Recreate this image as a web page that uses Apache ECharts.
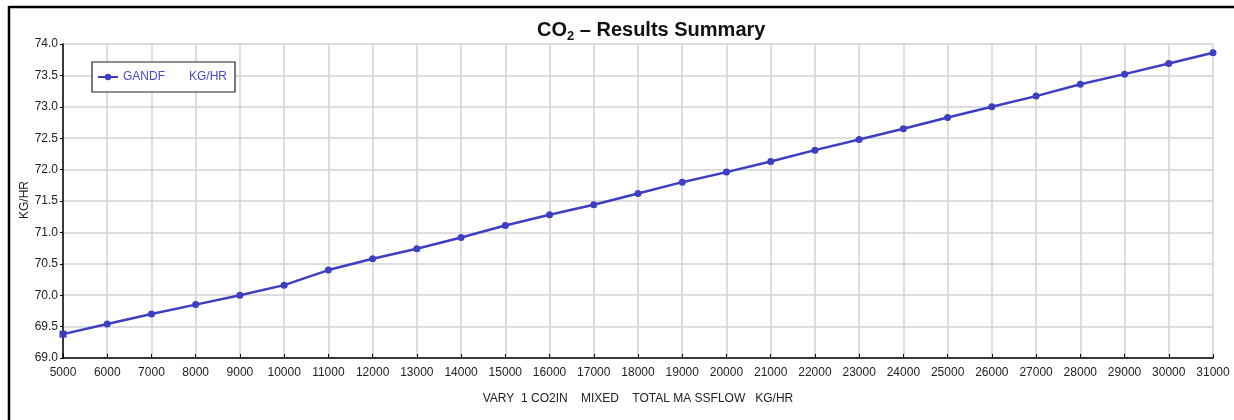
<!DOCTYPE html>
<html>
<head>
<meta charset="utf-8">
<script src="https://cdn.jsdelivr.net/npm/echarts@6/dist/echarts.min.js"></script>
<style>html,body{margin:0;padding:0;background:#fff}#c{width:1234px;height:420px}</style>
</head>
<body>
<div id="c"></div>
<script>
const flows = [5000,6000,7000,8000,9000,10000,11000,12000,13000,14000,15000,16000,17000,18000,19000,20000,21000,22000,23000,24000,25000,26000,27000,28000,29000,30000,31000];
const gandf = [69.38,69.54,69.70,69.85,70.00,70.16,70.40,70.58,70.74,70.92,71.11,71.28,71.44,71.62,71.80,71.96,72.13,72.31,72.48,72.65,72.83,73.00,73.17,73.36,73.52,73.69,73.86];
const seriesName = 'GANDF';
const seriesUnit = 'KG/HR';
const xAxisTitle = 'VARY  1 CO2IN    MIXED    TOTAL MA SSFLOW   KG/HR';
const yAxisTitle = 'KG/HR';

const chart = echarts.init(document.getElementById('c'));
const font = '"Liberation Sans", Arial, sans-serif';
const lineColor = '#3E3EC2';
chart.setOption({
  animation: false,
  backgroundColor: '#fff',
  title: {
    text: '{a|CO}{s|2}{a| – Results Summary}',
    left: 532,
    top: 13,
    textStyle: {
      rich: {
        a: {fontFamily: font, fontWeight: 'bold', fontSize: 20, color: '#111'},
        s: {fontFamily: font, fontWeight: 'bold', fontSize: 13, color: '#111', verticalAlign: 'bottom', padding: [12,0,0,0]}
      }
    }
  },
  graphic: [
    {type: 'line', shape: {x1: 9, y1: 7, x2: 1234, y2: 7}, style: {stroke: '#000', lineWidth: 2.5}},
    {type: 'line', shape: {x1: 9, y1: 6, x2: 9, y2: 420}, style: {stroke: '#000', lineWidth: 2.5}},
    {type: 'text', x: 25, y: 200, rotation: Math.PI / 2,
     style: {text: yAxisTitle, fontFamily: font, fontSize: 12, fill: '#222', align: 'center', verticalAlign: 'middle'}}
  ],
  legend: {
    left: 92, top: 62,
    orient: 'horizontal',
    backgroundColor: '#fff',
    borderColor: '#222', borderWidth: 1.2,
    padding: [9, 8, 9, 5],
    itemWidth: 20, itemHeight: 8,
    data: [seriesName],
    formatter: function(n){ return '{a|' + n + '}{b|' + seriesUnit + '}'; },
    textStyle: {
      rich: {
        a: {fontFamily: font, fontSize: 12, color: '#4848C8', width: 66},
        b: {fontFamily: font, fontSize: 12, color: '#4848C8'}
      }
    }
  },
  grid: {left: 63, right: 21, top: 44, bottom: 62},
  xAxis: {
    type: 'value', min: 5000, max: 31000, interval: 1000,
    name: xAxisTitle, nameLocation: 'middle', nameGap: 35,
    nameTextStyle: {fontFamily: font, fontSize: 12, color: '#222'},
    axisLine: {show: true, lineStyle: {color: '#000', width: 1.5}},
    axisTick: {show: true, inside: true, length: 4, lineStyle: {color: '#000'}},
    axisLabel: {fontFamily: font, fontSize: 12, color: '#222', margin: 9, formatter: v => String(v)},
    splitLine: {show: true, lineStyle: {color: '#d2d2d2', width: 1.5}}
  },
  yAxis: {
    type: 'value', min: 69, max: 74, interval: 0.5,
    axisLine: {show: true, lineStyle: {color: '#000', width: 1.5}},
    axisTick: {show: true, inside: false, length: 3, lineStyle: {color: '#000'}},
    axisLabel: {fontFamily: font, fontSize: 12, color: '#222', margin: 5, formatter: v => v.toFixed(1)},
    splitLine: {show: true, lineStyle: {color: '#d2d2d2', width: 1.5}}
  },
  series: [{
    name: seriesName,
    type: 'line',
    data: flows.map((x, i) => i === 0 ? {value: [x, gandf[i]], symbol: 'rect'} : [x, gandf[i]]),
    symbol: 'circle', symbolSize: 7,
    lineStyle: {color: lineColor, width: 2.5},
    itemStyle: {color: lineColor},
    clip: false
  }]
});
</script>
</body>
</html>
